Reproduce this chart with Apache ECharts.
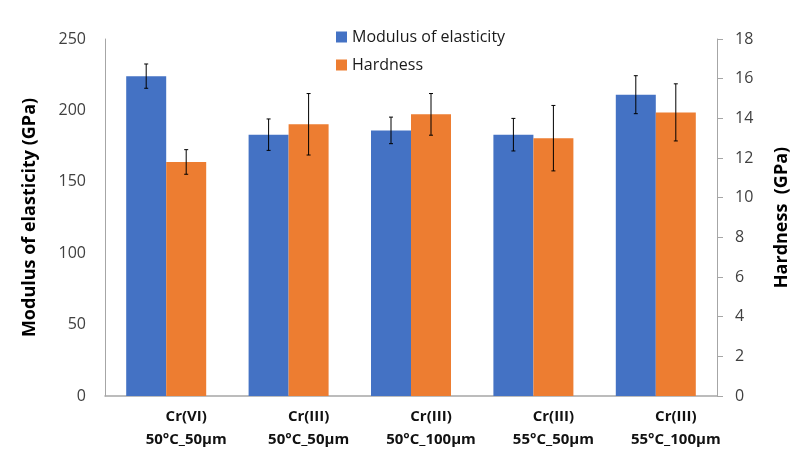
<!DOCTYPE html>
<html>
<head>
<meta charset="utf-8">
<script src="https://cdn.jsdelivr.net/npm/echarts@6/dist/echarts.min.js"></script>
<style>
  html, body { margin: 0; padding: 0; background: #fff; }
  #chart { width: 800px; height: 467px; }
</style>
</head>
<body>
<div id="chart"></div>
<script>
// values
const categories = ['Cr(VI)\n50°C_50µm', 'Cr(III)\n50°C_50µm', 'Cr(III)\n50°C_100µm', 'Cr(III)\n55°C_50µm', 'Cr(III)\n55°C_100µm']
const modulus = [224, 183, 186, 183, 211]
const modulusErr = [8.5, 11, 9.3, 11.4, 13.3]
const hardness = [11.8, 13.7, 14.2, 13.0, 14.3]
const hardnessErr = [0.62, 1.55, 1.05, 1.65, 1.44]
const leftTicks = { min: 0, max: 250, interval: 50 }
const rightTicks = { min: 0, max: 18, interval: 2 }

const BAR_W = 40
const font = '"Open Sans", "Noto Sans", sans-serif'

// low / high ends of each error bar
const toRange = (vals, errs) => vals.map((v, i) => [i, v - errs[i], v + errs[i]])

// whisker with small caps, shifted onto the left or right bar of the group
function errorBar(side) {
    return function (params, api) {
        const i = api.value(0)
        const lo = api.coord([i, api.value(1)])
        const hi = api.coord([i, api.value(2)])
        const x = lo[0] + side * BAR_W / 2
        const cap = 2
        const style = { stroke: '#000', lineWidth: 1 }
        return {
            type: 'group',
            children: [
                { type: 'line', shape: { x1: x, y1: lo[1], x2: x, y2: hi[1] }, style },
                { type: 'line', shape: { x1: x - cap, y1: lo[1], x2: x + cap, y2: lo[1] }, style },
                { type: 'line', shape: { x1: x - cap, y1: hi[1], x2: x + cap, y2: hi[1] }, style }
            ]
        }
    }
}

const chart = echarts.init(document.getElementById('chart'))

chart.setOption({
    animation: false,
    backgroundColor: '#fff',
    textStyle: { fontFamily: font },
    grid: { left: 105, right: 83, top: 39, bottom: 71, containLabel: false },
    legend: {
        orient: 'vertical',
        left: 331,
        top: 24,
        icon: 'rect',
        itemWidth: 11,
        itemHeight: 11,
        itemGap: 12,
        textStyle: { fontSize: 16, color: '#1a1a1a', fontFamily: font },
        data: ['Modulus of elasticity', 'Hardness']
    },
    xAxis: {
        type: 'category',
        data: categories,
        axisLine: { lineStyle: { color: '#a6a6a6', width: 1.5 } },
        axisTick: { show: false },
        axisLabel: {
            interval: 0,
            margin: 9,
            // labels sit a little right of the bar groups, as in the picture
            formatter: v => v.split('\n').map(s => '{a|' + s + '}').join('\n'),
            rich: {
                a: {
                    fontSize: 15,
                    fontWeight: 'bold',
                    color: '#111',
                    lineHeight: 23,
                    fontFamily: font,
                    padding: [0, 0, 0, 40]
                }
            }
        }
    },
    yAxis: [
        {
            type: 'value',
            ...leftTicks,
            name: 'Modulus of elasticity (GPa)',
            nameLocation: 'middle',
            nameGap: 66,
            nameTextStyle: { fontSize: 18, fontWeight: 'bold', color: '#000' },
            axisLine: { show: true, lineStyle: { color: '#a6a6a6' } },
            axisTick: { show: false },
            splitLine: { show: false },
            axisLabel: { fontSize: 16, color: '#404040', margin: 19 }
        },
        {
            type: 'value',
            ...rightTicks,
            name: 'Hardness  (GPa)',
            nameLocation: 'middle',
            nameGap: 56,
            nameRotate: 90,
            nameTextStyle: { fontSize: 18, fontWeight: 'bold', color: '#000' },
            position: 'right',
            axisLine: { show: true, lineStyle: { color: '#a6a6a6' } },
            axisTick: { show: true, length: 6, lineStyle: { color: '#a6a6a6' } },
            splitLine: { show: false },
            axisLabel: { fontSize: 16, color: '#404040', margin: 18 }
        }
    ],
    series: [
        {
            name: 'Modulus of elasticity',
            type: 'bar',
            yAxisIndex: 0,
            barWidth: BAR_W,
            barGap: '0%',
            itemStyle: { color: '#4472C4' },
            data: modulus
        },
        {
            name: 'Hardness',
            type: 'bar',
            yAxisIndex: 1,
            barWidth: BAR_W,
            barGap: '0%',
            itemStyle: { color: '#ED7D31' },
            data: hardness
        },
        {
            type: 'custom',
            yAxisIndex: 0,
            renderItem: errorBar(-1),
            encode: { x: 0, y: [1, 2] },
            data: toRange(modulus, modulusErr),
            z: 10
        },
        {
            type: 'custom',
            yAxisIndex: 1,
            renderItem: errorBar(1),
            encode: { x: 0, y: [1, 2] },
            data: toRange(hardness, hardnessErr),
            z: 10
        }
    ]
})
</script>
</body>
</html>
